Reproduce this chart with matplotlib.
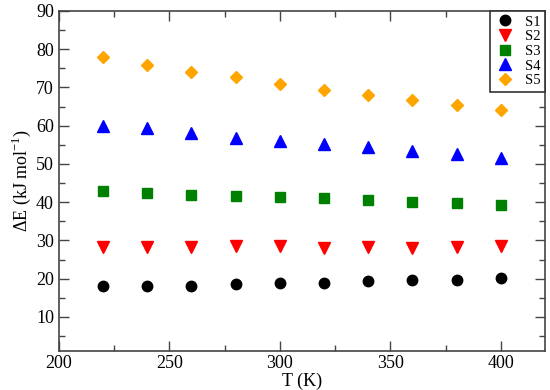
import matplotlib
matplotlib.use('Agg')
import matplotlib.pyplot as plt
from matplotlib.ticker import MultipleLocator

plt.rcParams['font.family'] = ['Liberation Serif', 'DejaVu Serif']
plt.rcParams['mathtext.fontset'] = 'custom'
plt.rcParams['mathtext.rm'] = 'Liberation Serif'

T = [220, 240, 260, 280, 300, 320, 340, 360, 380, 400]
S1 = [18.0, 18.2, 18.2, 18.6, 18.8, 19.0, 19.3, 19.7, 19.7, 20.1]
S2 = [28.4, 28.4, 28.4, 28.6, 28.6, 28.1, 28.4, 28.1, 28.4, 28.6]
S3 = [42.8, 42.5, 42.0, 41.6, 41.3, 41.0, 40.5, 40.1, 39.8, 39.3]
S4 = [60.0, 59.4, 58.0, 56.9, 56.1, 55.1, 54.4, 53.4, 52.5, 51.6]
S5 = [77.9, 75.8, 74.0, 72.7, 71.0, 69.4, 68.0, 66.7, 65.3, 64.2]

series = [('S1', S1, 'o', 'black', 7.5),
          ('S2', S2, 'v', 'red', 8),
          ('S3', S3, 's', 'green', 6.5),
          ('S4', S4, '^', 'blue', 8),
          ('S5', S5, 'D', 'orange', 6)]

fig = plt.figure(figsize=(5.5, 3.9), dpi=100)
ax = fig.add_axes([0.107, 0.101, 0.884, 0.871])

for name, vals, mk, col, ms in series:
    ax.plot(T, vals, linestyle='', marker=mk, color=col, markersize=ms,
            label=name)

ax.set_xlim(200, 420)
ax.set_ylim(1.2, 90)
ax.xaxis.set_major_locator(MultipleLocator(50))
ax.xaxis.set_minor_locator(MultipleLocator(25))
ax.yaxis.set_major_locator(MultipleLocator(10))
ax.yaxis.set_minor_locator(MultipleLocator(5))
ax.tick_params(which='both', direction='in', top=True, right=True,
               labelsize=13, color='#444444', width=1)
ax.tick_params(which='major', length=7)
ax.tick_params(which='minor', length=4)
for sp in ax.spines.values():
    sp.set_color('#444444')
    sp.set_linewidth(1.2)

ax.set_xlabel('T (K)', fontsize=13, labelpad=0)
ax.set_ylabel(r'ΔE (kJ mol$^{\mathregular{-1}}$)', fontsize=13, labelpad=2)

leg = ax.legend(loc='upper right', borderaxespad=0, fancybox=False,
                edgecolor='#333333', framealpha=1, fontsize=10.5,
                handletextpad=0.6, labelspacing=0.1, handlelength=1.5,
                borderpad=0.3)
leg.get_frame().set_linewidth(1.2)

fig.savefig('out.png', dpi=100)
